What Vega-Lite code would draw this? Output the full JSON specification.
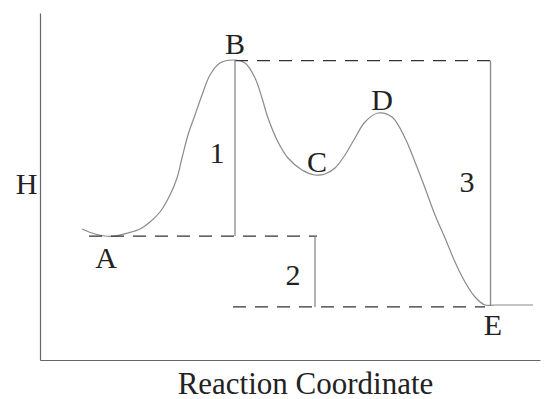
{
  "$schema": "https://vega.github.io/schema/vega-lite/v6.json",
  "width": 500,
  "height": 347,
  "autosize": {"type": "none"},
  "padding": {"left": 40, "top": 13, "right": 4, "bottom": 39},
  "background": "white",
  "config": {"view": {"stroke": null}, "font": "Liberation Serif"},
  "datasets": {
    "curve": [
      {"x": 8.4, "h": 37.75}, {"x": 11.0, "h": 36.31}, {"x": 13.0, "h": 35.73}, {"x": 15.0, "h": 35.73},
      {"x": 17.6, "h": 36.6}, {"x": 20.0, "h": 37.75}, {"x": 22.0, "h": 39.77}, {"x": 24.0, "h": 42.65},
      {"x": 26.0, "h": 47.55}, {"x": 27.4, "h": 52.45}, {"x": 28.4, "h": 58.21}, {"x": 29.6, "h": 64.84},
      {"x": 31.0, "h": 70.61}, {"x": 32.4, "h": 76.37}, {"x": 34.0, "h": 82.13}, {"x": 36.0, "h": 85.59},
      {"x": 38.6, "h": 86.46}, {"x": 41.0, "h": 85.59}, {"x": 43.0, "h": 81.27}, {"x": 44.4, "h": 75.5},
      {"x": 45.6, "h": 69.74}, {"x": 47.6, "h": 62.82}, {"x": 49.6, "h": 58.21}, {"x": 52.4, "h": 54.76},
      {"x": 55.0, "h": 53.31}, {"x": 57.0, "h": 53.6}, {"x": 59.0, "h": 55.33}, {"x": 61.0, "h": 59.08},
      {"x": 63.0, "h": 63.98}, {"x": 65.0, "h": 68.59}, {"x": 67.6, "h": 71.18}, {"x": 70.4, "h": 70.03},
      {"x": 73.0, "h": 63.98}, {"x": 75.0, "h": 57.06}, {"x": 77.0, "h": 49.57}, {"x": 79.0, "h": 41.79},
      {"x": 81.0, "h": 35.16}, {"x": 83.0, "h": 28.24}, {"x": 85.0, "h": 22.48}, {"x": 87.0, "h": 18.16},
      {"x": 89.0, "h": 15.85}, {"x": 91.0, "h": 15.85}, {"x": 98.6, "h": 15.85}
    ],
    "levels": [
      {"level": "A", "x1": 9.8, "x2": 55.4, "h": 35.7},
      {"level": "B", "x1": 39, "x2": 90.1, "h": 86.3},
      {"level": "E", "x1": 38.6, "x2": 89, "h": 15.3}
    ],
    "gaps": [
      {"gap": "1", "x": 39, "h1": 35.7, "h2": 86.5},
      {"gap": "2", "x": 55, "h1": 15.3, "h2": 35.7},
      {"gap": "3", "x": 90.1, "h1": 15.6, "h2": 86.3}
    ],
    "labels": [
      {"text": "B", "x": 39, "h": 88.2},
      {"text": "1", "x": 35.4, "h": 56.8},
      {"text": "C", "x": 55.4, "h": 54.2},
      {"text": "D", "x": 68.4, "h": 72.0},
      {"text": "3", "x": 85.4, "h": 48.4},
      {"text": "A", "x": 13.2, "h": 26.5},
      {"text": "2", "x": 50.6, "h": 21.6},
      {"text": "E", "x": 90.6, "h": 7.2}
    ]
  },
  "layer": [
    {
      "data": {"name": "curve"},
      "mark": {"type": "line", "interpolate": "catmull-rom", "color": "#8a8a8a", "strokeWidth": 1.2},
      "encoding": {
        "x": {
          "field": "x", "type": "quantitative",
          "scale": {"domain": [0, 100], "nice": false, "zero": false},
          "axis": {
            "title": "Reaction Coordinate", "labels": false, "ticks": false, "grid": false,
            "domainColor": "#666", "domainWidth": 1.2,
            "titleFont": "Liberation Serif", "titleFontSize": 31, "titleFontWeight": "normal",
            "titleColor": "#222", "titleX": 265, "titleY": 33, "titleAnchor": null,
            "titleAlign": "center", "titleBaseline": "alphabetic"
          }
        },
        "y": {
          "field": "h", "type": "quantitative",
          "scale": {"domain": [0, 100], "nice": false, "zero": false},
          "axis": {
            "title": "H", "labels": false, "ticks": false, "grid": false,
            "domainColor": "#666", "domainWidth": 1.2,
            "titleFont": "Liberation Serif", "titleFontSize": 30, "titleFontWeight": "normal",
            "titleColor": "#222", "titleAngle": 0, "titleX": -14, "titleY": 180,
            "titleAlign": "center", "titleBaseline": "alphabetic"
          }
        }
      }
    },
    {
      "data": {"name": "levels"},
      "mark": {"type": "rule", "color": "#333", "strokeWidth": 1.3, "strokeDash": [13, 9]},
      "encoding": {
        "x": {"field": "x1", "type": "quantitative"},
        "x2": {"field": "x2"},
        "y": {"field": "h", "type": "quantitative"}
      }
    },
    {
      "data": {"name": "gaps"},
      "mark": {"type": "rule", "color": "#888", "strokeWidth": 1.3},
      "encoding": {
        "x": {"field": "x", "type": "quantitative"},
        "y": {"field": "h1", "type": "quantitative"},
        "y2": {"field": "h2"}
      }
    },
    {
      "data": {"name": "labels"},
      "mark": {"type": "text", "font": "Liberation Serif", "fontSize": 30, "color": "#222", "align": "center", "baseline": "alphabetic"},
      "encoding": {
        "x": {"field": "x", "type": "quantitative"},
        "y": {"field": "h", "type": "quantitative"},
        "text": {"field": "text"}
      }
    }
  ]
}
